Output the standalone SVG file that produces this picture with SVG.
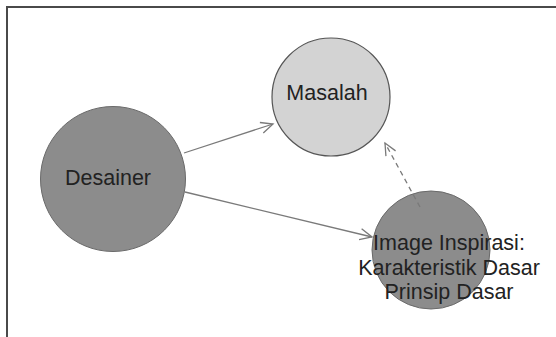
<svg xmlns="http://www.w3.org/2000/svg" width="556" height="337" viewBox="0 0 556 337">
  <style>
    .frame { fill: none; stroke: #4a4a4a; stroke-width: 2; }
    .dark { fill: #8c8c8c; stroke: #6a6a6a; stroke-width: 1; }
    .light { fill: #d3d3d3; stroke: #555; stroke-width: 1.2; }
    .label { font-family: "Liberation Sans", Arial, sans-serif; font-size: 21.5px; fill: #222; text-anchor: middle; }
    .edge { fill: none; stroke: #7a7a7a; stroke-width: 1.3; }
    .dashed { stroke-dasharray: 5 4; }
  </style>
  <defs>
    <marker id="open-arrow" viewBox="-14 -7 16 14" refX="0" refY="0" markerWidth="16" markerHeight="14" markerUnits="userSpaceOnUse" orient="auto">
      <path d="M-12,-5.5 L0,0 L-12,5.5" fill="none" stroke="#7a7a7a" stroke-width="1.3"/>
    </marker>
  </defs>

  <!-- frame: top and left edges -->
  <path class="frame" d="M7,337 L7,7 L556,7"/>

  <g id="desainer">
    <circle class="dark" cx="113" cy="179" r="72.5"/>
    <text class="label" x="108" y="184.5">Desainer</text>
  </g>

  <g id="masalah">
    <circle class="light" cx="331" cy="97" r="59"/>
    <text class="label" x="327" y="99.5">Masalah</text>
  </g>

  <g id="image-inspirasi">
    <circle class="dark" cx="431" cy="250" r="59"/>
  </g>

  <g id="connectors">
    <line class="edge" x1="184" y1="153" x2="273" y2="124" marker-end="url(#open-arrow)"/>
    <line class="edge" x1="185" y1="192" x2="372" y2="237" marker-end="url(#open-arrow)"/>
    <line class="edge dashed" x1="420" y1="207" x2="385" y2="143" marker-end="url(#open-arrow)"/>
  </g>

  <g id="image-inspirasi-label">
    <text class="label" x="449" y="250">Image Inspirasi:</text>
    <text class="label" x="449" y="274.5">Karakteristik Dasar</text>
    <text class="label" x="449" y="299">Prinsip Dasar</text>
  </g>
</svg>
